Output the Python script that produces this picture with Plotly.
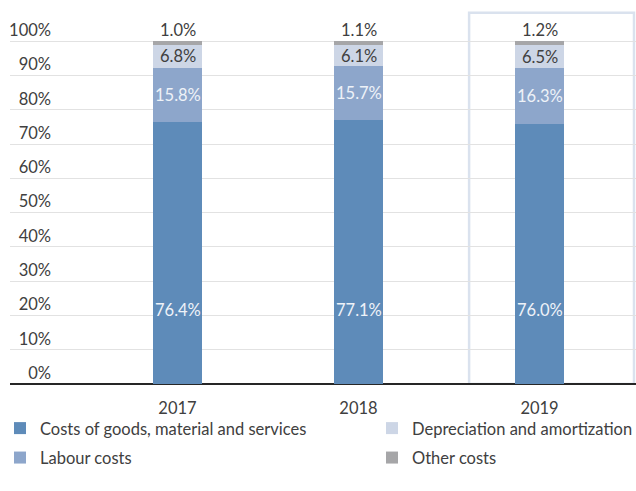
import plotly.graph_objects as go

years = ["2017", "2018", "2019"]
goods = [76.4, 77.1, 76.0]
labour = [15.8, 15.7, 16.3]
depreciation = [6.8, 6.1, 6.5]
other = [1.0, 1.1, 1.2]

series_names = [
    "Costs of goods, material and services",
    "Labour costs",
    "Depreciation and amortization",
    "Other costs",
]
series_values = [goods, labour, depreciation, other]
colors = ["#5e8bb9", "#8da6cb", "#cdd6e6", "#a6a6a8"]
legend_slots = ["legend", "legend", "legend2", "legend2"]

y_ticks = list(range(0, 101, 10))
x_pos = list(range(len(years)))

FONT = "Lato, 'Open Sans', sans-serif"
TEXT_DARK = "#404040"
TEXT_LIGHT = "#eef2f8"
FS = 16.5

fig = go.Figure()
for name, vals, col, slot in zip(series_names, series_values, colors, legend_slots):
    fig.add_trace(go.Bar(
        x=x_pos, y=vals, name=name, marker=dict(color=col, line=dict(width=0)),
        width=0.27, legend=slot, legendgroup=name, hoverinfo="skip",
    ))

# value labels
annotations = []
for i in x_pos:
    base = 0.0
    for k, vals in enumerate(series_values):
        v = vals[i]
        if k == 0:
            y, color = 21.5, TEXT_LIGHT
        elif k == 1:
            y, color = base + v / 2, TEXT_LIGHT
        elif k == 2:
            y, color = base + v / 2, TEXT_DARK
        else:
            y, color = base + v + 3.4, TEXT_DARK
        annotations.append(dict(
            x=i, y=y, xref="x", yref="y", text=f"{v:.1f}%", showarrow=False,
            font=dict(family=FONT, size=FS, color=color),
            xanchor="center", yanchor="middle",
        ))
        base += v

legend_common = dict(
    orientation="v", yanchor="top", xanchor="left",
    font=dict(family=FONT, size=FS, color=TEXT_DARK),
    bgcolor="rgba(0,0,0,0)", tracegroupgap=5, itemwidth=30,
)

fig.update_layout(
    width=636, height=491,
    margin=dict(l=10, r=0, t=0, b=107, pad=0, autoexpand=False),
    paper_bgcolor="white", plot_bgcolor="white",
    barmode="stack",
    bargap=0,
    font=dict(family=FONT, size=FS, color=TEXT_DARK),
    annotations=annotations,
    shapes=[dict(
        type="rect", xref="x", yref="y", x0=1.611, x1=2.522, y0=0, y1=108.3,
        line=dict(color="#dae2ee", width=2.5), fillcolor="rgba(0,0,0,0)", layer="below",
    )],
    legend=dict(x=-10 / 626, y=-0.07, **legend_common),
    legend2=dict(x=362 / 626, y=-0.07, **legend_common),
    showlegend=True,
)

fig.update_xaxes(
    range=[-0.9254, 2.533], tickmode="array", tickvals=x_pos, ticktext=years,
    showgrid=False, zeroline=False, showline=False, ticks="",
    ticklabelstandoff=12, tickfont=dict(family=FONT, size=FS, color=TEXT_DARK),
    fixedrange=True,
)
fig.update_yaxes(
    range=[0, 112.05], tickmode="array", tickvals=y_ticks,
    ticktext=[f"{t}%" for t in y_ticks],
    showgrid=True, gridcolor="#e2e2e2", gridwidth=1,
    zeroline=True, zerolinecolor="#262626", zerolinewidth=2,
    showline=False, ticks="",
    ticklabelposition="outside", ticklabelstandoff=-42, ticklabelshift=-11,
    tickfont=dict(family=FONT, size=FS, color=TEXT_DARK),
    fixedrange=True,
)

fig.write_html("out.html")
